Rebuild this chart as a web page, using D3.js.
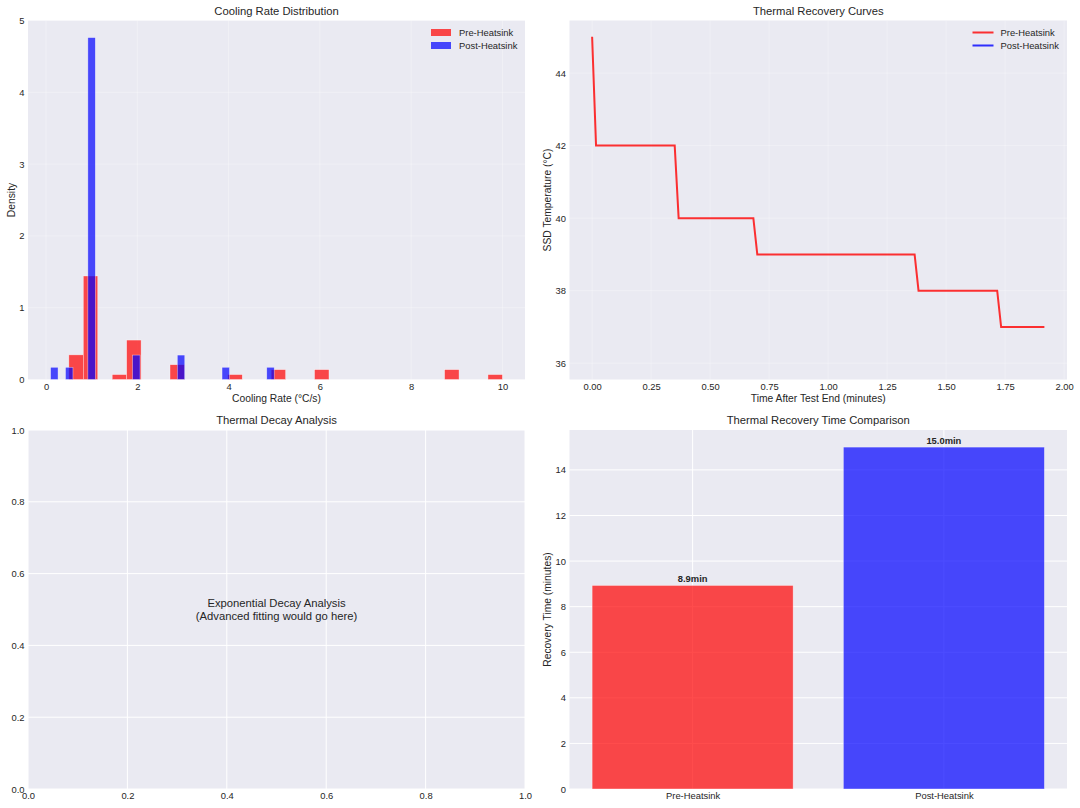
<!DOCTYPE html>
<html>
<head>
<meta charset="utf-8">
<script src="https://cdn.jsdelivr.net/npm/d3@7"></script>
<style>
body { margin: 0; background: #fff; }
svg { font-family: "Liberation Sans", Arial, sans-serif; }
.tick text { fill: #262626; font-size: 9.4px; font-family: "Liberation Sans", Arial, sans-serif; }
</style>
</head>
<body>
<script>
// cooling rates (value, how often it occurs)
var preRateValues = [0.5, 0.67, 1.0, 1.5, 2.0, 3.0, 4.0, 5.0, 6.0, 9.0, 10.0];
var preRateCounts = [3, 2, 21, 1, 8, 3, 1, 2, 2, 2, 1];
var postRateValues = [0.1, 0.5, 1.0, 2.0, 3.0, 4.0, 5.0];
var postRateCounts = [1, 1, 28, 2, 2, 1, 1];
var histBins = 30;

// recovery curve, seconds after test end
var preRecoverySec = [0, 1, 21, 22, 41, 42, 82, 83, 103, 104, 115];
var preRecoveryTemp = [45, 42, 42, 40, 40, 39, 39, 38, 38, 37, 37];
var postRecoverySec = [];
var postRecoveryTemp = [];

var groups = ['Pre-Heatsink', 'Post-Heatsink'];
var recoveryMinutes = [8.93, 15.0];
var colors = ['#ff0000', '#0000ff'];

var boxes = {
    tl: {x0: 28, x1: 525, y0: 20.5, y1: 379.5},
    tr: {x0: 569.5, x1: 1067, y0: 20.5, y1: 379.5},
    bl: {x0: 28, x1: 525, y0: 430, y1: 789},
    br: {x0: 569.5, x1: 1067, y0: 430, y1: 789}
};

var svg = d3.select('body').append('svg')
    .attr('width', 1080)
    .attr('height', 808);

var panel = function(box, title) {
    var g = svg.append('g');
    g.append('rect')
        .attr('x', box.x0).attr('y', box.y0)
        .attr('width', box.x1 - box.x0).attr('height', box.y1 - box.y0)
        .attr('fill', '#eaeaf2');
    g.append('text')
        .attr('x', (box.x0 + box.x1) / 2)
        .attr('y', box.y0 - 6)
        .attr('text-anchor', 'middle')
        .attr('font-size', '11.25px')
        .attr('fill', '#262626')
        .text(title);
    return g;
}

var axes = function(g, box, x, y, xTicks, yTicks, xFmt, yFmt, gridAlpha) {
    var grid = g.append('g');
    grid.selectAll('.gx').data(xTicks).enter().append('line')
        .attr('x1', function(d) { return x(d); })
        .attr('x2', function(d) { return x(d); })
        .attr('y1', box.y0).attr('y2', box.y1)
        .attr('stroke', '#fff').attr('stroke-opacity', gridAlpha);
    grid.selectAll('.gy').data(yTicks).enter().append('line')
        .attr('y1', function(d) { return y(d); })
        .attr('y2', function(d) { return y(d); })
        .attr('x1', box.x0).attr('x2', box.x1)
        .attr('stroke', '#fff').attr('stroke-opacity', gridAlpha);

    var xa = g.append('g')
        .attr('transform', 'translate(0,' + box.y1 + ')')
        .call(d3.axisBottom(x).tickValues(xTicks).tickFormat(xFmt).tickSize(0).tickPadding(3.5));
    xa.select('.domain').remove();
    var ya = g.append('g')
        .attr('transform', 'translate(' + box.x0 + ',0)')
        .call(d3.axisLeft(y).tickValues(yTicks).tickFormat(yFmt).tickSize(0).tickPadding(3.5));
    ya.select('.domain').remove();
    [xa, ya].forEach(function(a) {
        a.attr('font-family', null).attr('font-size', null);
    });
}

var axisLabels = function(g, box, xLabel, yLabel, yLabelX) {
    if (xLabel) {
        g.append('text')
            .attr('x', (box.x0 + box.x1) / 2)
            .attr('y', box.y1 + 22.5)
            .attr('text-anchor', 'middle')
            .attr('font-size', '10.3px')
            .attr('fill', '#262626')
            .text(xLabel);
    }
    if (yLabel) {
        g.append('text')
            .attr('transform', 'translate(' + yLabelX + ',' + (box.y0 + box.y1) / 2 + ') rotate(-90)')
            .attr('text-anchor', 'middle')
            .attr('font-size', '10.3px')
            .attr('fill', '#262626')
            .text(yLabel);
    }
}

// ---- Cooling Rate Distribution ----
var expand = function(values, counts) {
    var out = [];
    values.forEach(function(v, i) {
        for (var k = 0; k < counts[i]; k++) out.push(v);
    });
    return out;
}

var makeHist = function(samples) {
    var lo = d3.min(samples), hi = d3.max(samples);
    var w = (hi - lo) / histBins;
    var bins = d3.bin()
        .domain([lo, hi])
        .thresholds(d3.range(1, histBins).map(function(i) { return lo + i * w; }))(samples);
    bins.forEach(function(b, i) {
        b.x0 = lo + i * w;
        b.x1 = lo + (i + 1) * w;
        b.density = b.length / (samples.length * w);
    });
    return bins;
}

var preHist = makeHist(expand(preRateValues, preRateCounts));
var postHist = makeHist(expand(postRateValues, postRateCounts));

var b = boxes.tl;
var g1 = panel(b, 'Cooling Rate Distribution');
var xLo = Math.min(preHist[0].x0, postHist[0].x0);
var xHi = Math.max(preHist[histBins - 1].x1, postHist[histBins - 1].x1);
var xPad = (xHi - xLo) * 0.05;
var x1 = d3.scaleLinear().domain([xLo - xPad, xHi + xPad]).range([b.x0, b.x1]);
var yMax = d3.max(preHist.concat(postHist), function(d) { return d.density; }) * 1.05;
var y1 = d3.scaleLinear().domain([0, yMax]).range([b.y1, b.y0]);
axes(g1, b, x1, y1, [0, 2, 4, 6, 8, 10], [0, 1, 2, 3, 4, 5], d3.format('d'), d3.format('d'), 0.3);
axisLabels(g1, b, 'Cooling Rate (\u00b0C/s)', 'Density', 14.5);

[preHist, postHist].forEach(function(hist, i) {
    g1.append('g').selectAll('rect')
        .data(hist.filter(function(d) { return d.length > 0; }))
        .enter()
        .append('rect')
        .attr('x', function(d) { return x1(d.x0); })
        .attr('width', function(d) { return x1(d.x1) - x1(d.x0); })
        .attr('y', function(d) { return y1(d.density); })
        .attr('height', function(d) { return y1(0) - y1(d.density); })
        .attr('fill', colors[i])
        .attr('fill-opacity', 0.7)
        .attr('stroke', '#fff')
        .attr('stroke-opacity', 0.6)
        .attr('stroke-width', 0.6);
});

var leg1 = g1.append('g').selectAll('g').data(groups).enter().append('g')
    .attr('transform', function(d, i) { return 'translate(431,' + (32.5 + i * 13) + ')'; });
leg1.append('rect')
    .attr('x', 0).attr('y', -3.5).attr('width', 20).attr('height', 7)
    .attr('fill', function(d, i) { return colors[i]; })
    .attr('fill-opacity', 0.7);
leg1.append('text')
    .attr('x', 28).attr('y', 3.4)
    .attr('font-size', '9.4px').attr('fill', '#262626')
    .text(function(d) { return d; });

// ---- Thermal Recovery Curves ----
b = boxes.tr;
var g2 = panel(b, 'Thermal Recovery Curves');
var preCurve = preRecoverySec.map(function(s, i) { return {t: s / 60, temp: preRecoveryTemp[i]}; });
var postCurve = postRecoverySec.map(function(s, i) { return {t: s / 60, temp: postRecoveryTemp[i]}; });
var tMax = d3.max(preCurve, function(d) { return d.t; });
var x2 = d3.scaleLinear().domain([-tMax * 0.05, tMax * 1.05]).range([b.x0, b.x1]);
var y2 = d3.scaleLinear().domain([35.55, 45.45]).range([b.y1, b.y0]);
axes(g2, b, x2, y2, [0, 0.25, 0.5, 0.75, 1, 1.25, 1.5, 1.75, 2], [36, 38, 40, 42, 44],
    d3.format('.2f'), d3.format('d'), 0.3);
axisLabels(g2, b, 'Time After Test End (minutes)', 'SSD Temperature (\u00b0C)', 550.5);

var line = d3.line()
    .x(function(d) { return x2(d.t); })
    .y(function(d) { return y2(d.temp); });
[preCurve, postCurve].forEach(function(c, i) {
    if (!c.length) return;
    g2.append('path')
        .datum(c)
        .attr('d', line)
        .attr('fill', 'none')
        .attr('stroke', colors[i])
        .attr('stroke-opacity', 0.8)
        .attr('stroke-width', 2);
});

var leg2 = g2.append('g').selectAll('g').data(groups).enter().append('g')
    .attr('transform', function(d, i) { return 'translate(972.5,' + (32.5 + i * 13) + ')'; });
leg2.append('line')
    .attr('x1', 0).attr('x2', 21).attr('y1', 0).attr('y2', 0)
    .attr('stroke', function(d, i) { return colors[i]; })
    .attr('stroke-opacity', 0.8)
    .attr('stroke-width', 2);
leg2.append('text')
    .attr('x', 28).attr('y', 3.4)
    .attr('font-size', '9.4px').attr('fill', '#262626')
    .text(function(d) { return d; });

// ---- Thermal Decay Analysis (placeholder) ----
b = boxes.bl;
var g3 = panel(b, 'Thermal Decay Analysis');
var x3 = d3.scaleLinear().domain([0, 1]).range([b.x0, b.x1]);
var y3 = d3.scaleLinear().domain([0, 1]).range([b.y1, b.y0]);
var unitTicks = [0, 0.2, 0.4, 0.6, 0.8, 1.0];
axes(g3, b, x3, y3, unitTicks, unitTicks, d3.format('.1f'), d3.format('.1f'), 1);
var note = g3.append('text')
    .attr('text-anchor', 'middle')
    .attr('font-size', '11.25px')
    .attr('fill', '#262626');
note.append('tspan').attr('x', x3(0.5)).attr('y', y3(0.5) - 2.5).text('Exponential Decay Analysis');
note.append('tspan').attr('x', x3(0.5)).attr('y', y3(0.5) + 10).text('(Advanced fitting would go here)');

// ---- Thermal Recovery Time Comparison ----
b = boxes.br;
var g4 = panel(b, 'Thermal Recovery Time Comparison');
var x4 = d3.scaleLinear().domain([-0.49, 1.49]).range([b.x0, b.x1]);
var y4 = d3.scaleLinear().domain([0, d3.max(recoveryMinutes) * 1.05]).range([b.y1, b.y0]);
axes(g4, b, x4, y4, [0, 1], [0, 2, 4, 6, 8, 10, 12, 14],
    function(i) { return groups[i]; }, d3.format('d'), 1);
axisLabels(g4, b, null, 'Recovery Time (minutes)', 550.5);

g4.append('g').selectAll('rect')
    .data(recoveryMinutes)
    .enter()
    .append('rect')
    .attr('x', function(d, i) { return x4(i - 0.4); })
    .attr('width', function(d, i) { return x4(i + 0.4) - x4(i - 0.4); })
    .attr('y', function(d) { return y4(d); })
    .attr('height', function(d) { return y4(0) - y4(d); })
    .attr('fill', function(d, i) { return colors[i]; })
    .attr('fill-opacity', 0.7)
    .attr('stroke', '#fff')
    .attr('stroke-opacity', 0.6)
    .attr('stroke-width', 0.6);

g4.append('g').selectAll('text')
    .data(recoveryMinutes)
    .enter()
    .append('text')
    .attr('x', function(d, i) { return x4(i); })
    .attr('y', function(d) { return y4(d) - 3.5; })
    .attr('text-anchor', 'middle')
    .attr('font-size', '9.4px')
    .attr('font-weight', 'bold')
    .attr('fill', '#262626')
    .text(function(d) { return d.toFixed(1) + 'min'; });
</script>
</body>
</html>
